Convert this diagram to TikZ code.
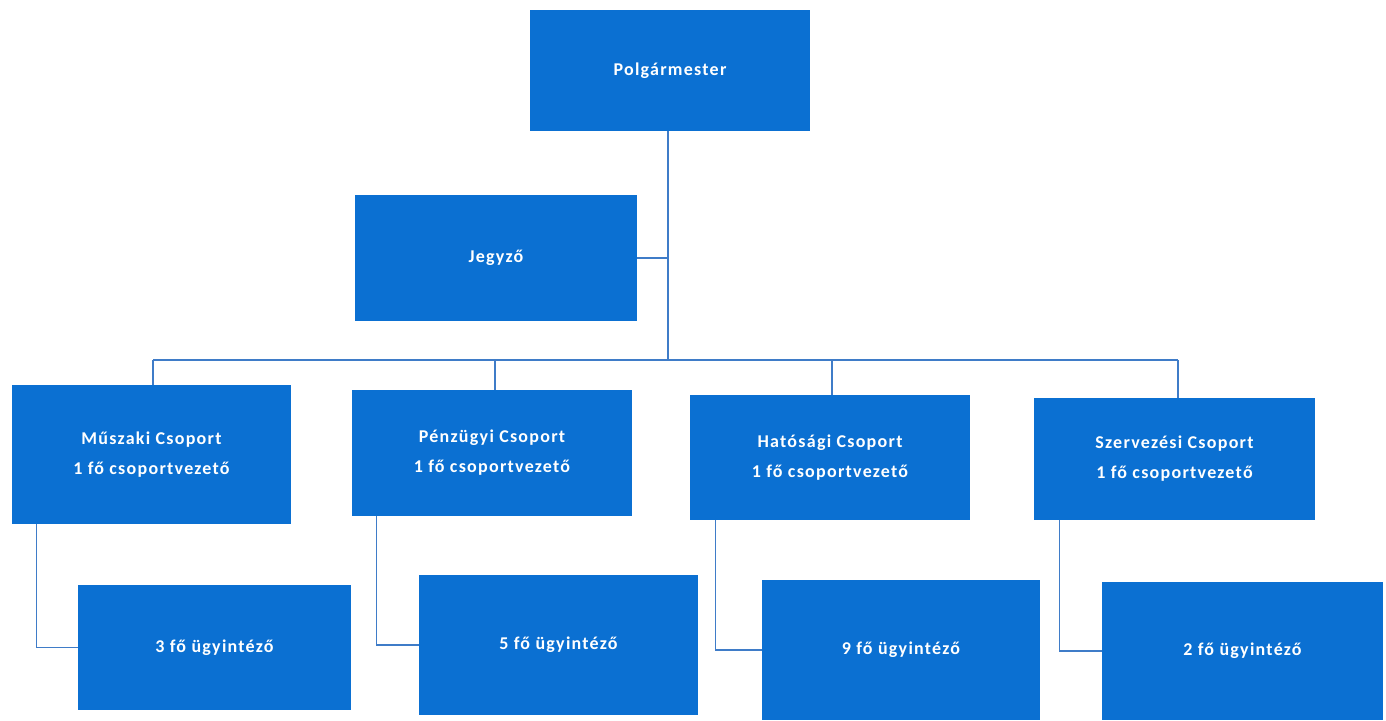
\documentclass[tikz,border=0pt]{standalone}
\usepackage{fontspec}
\setmainfont{Carlito}[LetterSpace=7]
\definecolor{boxblue}{HTML}{0B70D2}
\definecolor{lineblue}{HTML}{3F7CC8}
\tikzset{
  orgbox/.style={rectangle, fill=boxblue, draw=none, text=white, font=\fontsize{18}{30}\selectfont\bfseries, align=center, inner sep=0pt},
  link/.style={draw=lineblue, line width=1.1pt}
}
\begin{document}
\begin{tikzpicture}[x=1pt,y=-1pt]
\fill[white] (0,0) rectangle (1386,720);
\useasboundingbox (0,0) rectangle (1386,720);
\node[orgbox, minimum width=280pt, minimum height=121pt] (pm) at (670,70.5) {Polgármester};
\node[orgbox, minimum width=282pt, minimum height=126pt] (jz) at (496,258) {Jegyző};
\node[orgbox, minimum width=279pt, minimum height=139pt] (mu) at (151.5,454.5) {Műszaki Csoport\\1 fő csoportvezető};
\node[orgbox, minimum width=280pt, minimum height=126pt] (pe) at (492,453) {Pénzügyi Csoport\\1 fő csoportvezető};
\node[orgbox, minimum width=280pt, minimum height=125pt] (ha) at (830,457.5) {Hatósági Csoport\\1 fő csoportvezető};
\node[orgbox, minimum width=281pt, minimum height=122pt] (sz) at (1174.5,459) {Szervezési Csoport\\1 fő csoportvezető};
\node[orgbox, minimum width=273pt, minimum height=125pt] (u3) at (214.5,647.5) {3 fő ügyintéző};
\node[orgbox, minimum width=279pt, minimum height=140pt] (u5) at (558.5,645) {5 fő ügyintéző};
\node[orgbox, minimum width=278pt, minimum height=140pt] (u9) at (901,650) {9 fő ügyintéző};
\node[orgbox, minimum width=281pt, minimum height=138pt] (u2) at (1242.5,651) {2 fő ügyintéző};
\coordinate (busL) at (153,360);
\coordinate (busM) at (668,360);
\coordinate (busR) at (1178,360);
\draw[link] ([xshift=-2pt]pm.south) -- (busM);
\draw[link] (jz.east) -- (jz.east -| busM);
\draw[link] (busL) -- (busR);
\draw[link] (busL) -- (busL |- mu.north);
\draw[link] ([xshift=3pt]pe.north) -- ([xshift=3pt]pe.north |- busL);
\draw[link] ([xshift=2pt]ha.north) -- ([xshift=2pt]ha.north |- busL);
\draw[link] (busR) -- (busR |- sz.north);
\draw[link] ([xshift=25pt]mu.south west) |- (u3.west);
\draw[link] ([xshift=25pt]pe.south west) |- (u5.west);
\draw[link] ([xshift=26pt]ha.south west) |- (u9.west);
\draw[link] ([xshift=26pt]sz.south west) |- (u2.west);
\end{tikzpicture}
\end{document}
